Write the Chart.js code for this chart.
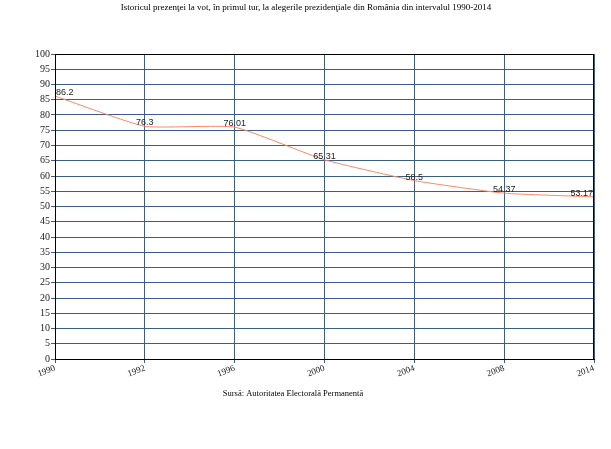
<!DOCTYPE html>
<html>
<head>
<meta charset="utf-8">
<script src="https://cdn.jsdelivr.net/npm/chart.js@4"></script>
<style>
  html, body { margin: 0; padding: 0; background: #fff; }
  #wrap { width: 611px; height: 449px; }
</style>
</head>
<body>
<div id="wrap"><canvas id="chart" width="611" height="449"></canvas></div>
<script>
const years = ["1990", "1992", "1996", "2000", "2004", "2008", "2014"];
const turnout = [86.2, 76.3, 76.01, 65.31, 58.5, 54.37, 53.17];
const turnoutLabels = ["86.2", "76.3", "76.01", "65.31", "58.5", "54.37", "53.17"];

const titleText = "Istoricul prezenţei la vot, în primul tur, la alegerile prezidenţiale din România din intervalul 1990-2014";
const sourceText = "Sursă: Autoritatea Electorală Permanentă";

const gridColor = "#3d5c86";

// title, source and value labels
const textPlugin = {
  id: "texts",
  afterDatasetsDraw(chart) {
    const ctx = chart.ctx;
    const area = chart.chartArea;
    ctx.save();
    ctx.fillStyle = "#000";
    ctx.font = "9px 'Liberation Serif'";
    ctx.textAlign = "center";
    ctx.textBaseline = "top";
    ctx.fillText(titleText, 306, 3);
    ctx.font = "8.5px 'Liberation Serif'";
    ctx.fillText(sourceText, 293, 390);

    ctx.font = "9px 'Liberation Sans'";
    ctx.textBaseline = "alphabetic";
    ctx.fillStyle = "#222";
    const meta = chart.getDatasetMeta(0);
    meta.data.forEach((pt, i) => {
      const txt = turnoutLabels[i];
      const w = ctx.measureText(txt).width;
      let x = pt.x - w / 2;
      if (x < area.left + 1) x = area.left + 1;
      if (x + w > area.right - 1) x = area.right - 1 - w;
      ctx.textAlign = "left";
      ctx.fillText(txt, x, pt.y - 1);
    });
    ctx.restore();
  }
};

// black frame around plot area
const framePlugin = {
  id: "frame",
  afterDraw(chart) {
    const { ctx, chartArea: a } = chart;
    ctx.save();
    ctx.strokeStyle = "#000";
    ctx.lineWidth = 1;
    ctx.strokeRect(Math.round(a.left) + 0.5, Math.round(a.top) + 0.5,
      Math.round(a.right - a.left) - 1, Math.round(a.bottom - a.top));
    ctx.restore();
  }
};

new Chart(document.getElementById("chart"), {
  type: "line",
  data: {
    labels: years,
    datasets: [{
      data: turnout,
      borderColor: "#ff8866",
      borderWidth: 1,
      pointRadius: 0,
      tension: 0.15,
      fill: false
    }]
  },
  options: {
    responsive: false,
    animation: false,
    layout: { padding: { top: 54, right: 17, bottom: 50, left: 0 } },
    plugins: {
      legend: { display: false },
      tooltip: { enabled: false }
    },
    scales: {
      x: {
        offset: false,
        grid: { color: gridColor, tickLength: 4, drawTicks: true },
        border: { color: "#000", width: 1 },
        ticks: {
          autoSkip: false,
          minRotation: 20,
          maxRotation: 20,
          padding: 0,
          color: "#222",
          font: { family: "'Liberation Serif'", size: 9 }
        },
        afterFit(scale) { scale.height = 40; }
      },
      y: {
        min: 0,
        max: 100,
        grid: { color: gridColor, tickLength: 4 },
        border: { color: "#000", width: 1 },
        ticks: {
          stepSize: 5,
          padding: 1,
          color: "#222",
          font: { family: "'Liberation Serif'", size: 10 }
        },
        afterFit(scale) { scale.width = 55; }
      }
    }
  },
  plugins: [textPlugin, framePlugin]
});
</script>
</body>
</html>
